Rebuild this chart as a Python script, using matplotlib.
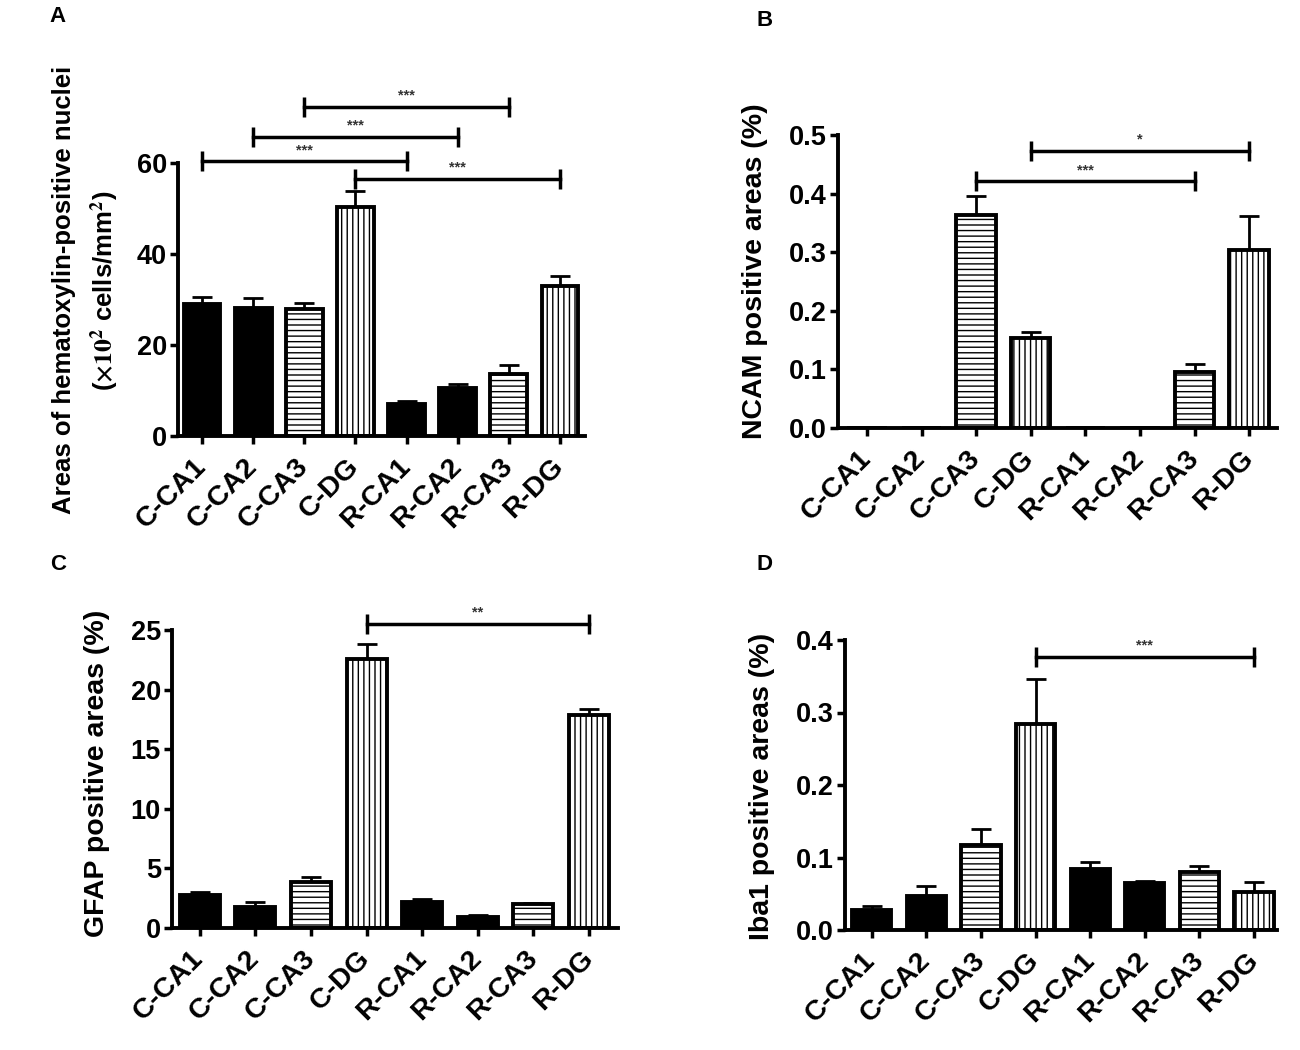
import matplotlib.pyplot as plt
import numpy as np

plt.rcParams['font.family'] = ['Liberation Sans', 'DejaVu Sans']
plt.rcParams['font.weight'] = 'bold'
plt.rcParams['hatch.linewidth'] = 1.0
plt.rcParams['mathtext.fontset'] = 'stix'
plt.rcParams['mathtext.default'] = 'rm'

groups = ['C-CA1', 'C-CA2', 'C-CA3', 'C-DG', 'R-CA1', 'R-CA2', 'R-CA3', 'R-DG']
fills = ['solid', 'solid', 'hline', 'vline', 'solid', 'solid', 'hline', 'vline']

hema_mean = [29.0, 28.1, 27.9, 50.3, 7.0, 10.5, 13.6, 33.0]
hema_top = [30.5, 30.3, 29.2, 53.8, 7.7, 11.4, 15.6, 35.2]
ncam_mean = [0, 0, 0.363, 0.154, 0, 0, 0.096, 0.304]
ncam_top = [0, 0, 0.396, 0.164, 0, 0, 0.109, 0.362]
gfap_mean = [2.77, 1.76, 3.86, 22.6, 2.15, 0.9, 2.0, 17.9]
gfap_top = [3.0, 2.2, 4.27, 23.8, 2.4, 1.07, 2.1, 18.4]
iba1_mean = [0.028, 0.047, 0.117, 0.284, 0.084, 0.065, 0.080, 0.052]
iba1_top = [0.033, 0.061, 0.139, 0.346, 0.094, 0.068, 0.088, 0.066]

# (left bar, right bar, bracket height, stars)
hema_sig = [(0, 4, 60.4, '***'), (1, 5, 65.7, '***'), (2, 6, 72.3, '***'), (3, 7, 56.5, '***')]
ncam_sig = [(2, 6, 0.421, '***'), (3, 7, 0.473, '*')]
gfap_sig = [(3, 7, 25.5, '**')]
iba1_sig = [(3, 7, 0.377, '***')]

hema_ticks = [0, 20, 40, 60]
ncam_ticks = [0.0, 0.1, 0.2, 0.3, 0.4, 0.5]
gfap_ticks = [0, 5, 10, 15, 20, 25]
iba1_ticks = [0.0, 0.1, 0.2, 0.3, 0.4]

W, H = 1300, 1050


def px_box(left, right, bottom, top):
    return [left / W, 1 - bottom / H, (right - left) / W, (bottom - top) / H]


def draw_panel(ax, mean, top, sig, yticks, fmt, xlim):
    x = np.arange(len(groups))
    mean = np.array(mean)
    err = np.array(top) - mean
    for i, m in enumerate(mean):
        style = fills[i]
        if style == 'solid':
            ax.bar(x[i], m, 0.72, color='black', edgecolor='black', linewidth=2.8, zorder=2)
        else:
            hatch = '---' if style == 'hline' else '|||'
            ax.bar(x[i], m, 0.72, color='white', edgecolor='black', hatch=hatch,
                   linewidth=2.8, zorder=2)
    ax.errorbar(x, mean, yerr=[np.zeros_like(err), err], fmt='none', ecolor='black',
                elinewidth=2, capsize=7, capthick=2, zorder=1)

    for a, b, h, stars in sig:
        ax.plot([a, b], [h, h], color='black', lw=2.5, marker='|', markersize=14,
                markeredgewidth=2.5, clip_on=False, zorder=3)
        ax.annotate(stars, ((a + b) / 2, h), xytext=(0, 3), textcoords='offset points',
                    ha='center', va='bottom', fontsize=10.5, color='#333333',
                    annotation_clip=False)

    ax.set_xlim(*xlim)
    ax.set_ylim(yticks[0], yticks[-1])
    ax.set_yticks(yticks)
    ax.set_yticklabels([fmt.format(t) for t in yticks])
    ax.set_xticks(x)
    ax.set_xticklabels(groups, rotation=45, ha='right', va='center', rotation_mode='anchor')
    for s in ['top', 'right']:
        ax.spines[s].set_visible(False)
    for s in ['left', 'bottom']:
        ax.spines[s].set_linewidth(2.8)
    ax.tick_params(axis='both', direction='out', length=6, width=2.5)
    ax.tick_params(axis='y', labelsize=19.5, pad=2)
    ax.tick_params(axis='x', labelsize=20.5, pad=13)


fig = plt.figure(figsize=(13, 10.5), dpi=100)

ax_a = fig.add_axes(px_box(178, 585, 436, 163))
draw_panel(ax_a, hema_mean, hema_top, hema_sig, hema_ticks, '{:d}', (-0.47, 7.49))

ax_b = fig.add_axes(px_box(838, 1277, 428, 135))
draw_panel(ax_b, ncam_mean, ncam_top, ncam_sig, ncam_ticks, '{:.1f}', (-0.53, 7.51))

ax_c = fig.add_axes(px_box(172, 618, 928, 630))
draw_panel(ax_c, gfap_mean, gfap_top, gfap_sig, gfap_ticks, '{:d}', (-0.5, 7.52))

ax_d = fig.add_axes(px_box(845, 1277, 930, 640))
draw_panel(ax_d, iba1_mean, iba1_top, iba1_sig, iba1_ticks, '{:.1f}', (-0.49, 7.42))

# y axis titles
fig.text(64 / W, 1 - 290 / H, 'Areas of hematoxylin-positive nuclei', rotation=90,
         ha='center', va='center', fontsize=18.5)
fig.text(105 / W, 1 - 291 / H, r'($\times10^2$ cells/mm$^2$)', rotation=90,
         ha='center', va='center', fontsize=18.5)
fig.text(755 / W, 1 - 271 / H, 'NCAM positive areas (%)', rotation=90,
         ha='center', va='center', fontsize=20.5)
fig.text(97 / W, 1 - 773 / H, 'GFAP positive areas (%)', rotation=90,
         ha='center', va='center', fontsize=20.5)
fig.text(762 / W, 1 - 786 / H, 'Iba1 positive areas (%)', rotation=90,
         ha='center', va='center', fontsize=20.5)

# panel letters
for letter, (px, py) in zip('ABCD', [(58, 17), (765, 20), (58, 565), (765, 565)]):
    fig.text(px / W, 1 - py / H, letter, ha='center', va='center', fontsize=16)

fig.savefig('out.png', dpi=100)
